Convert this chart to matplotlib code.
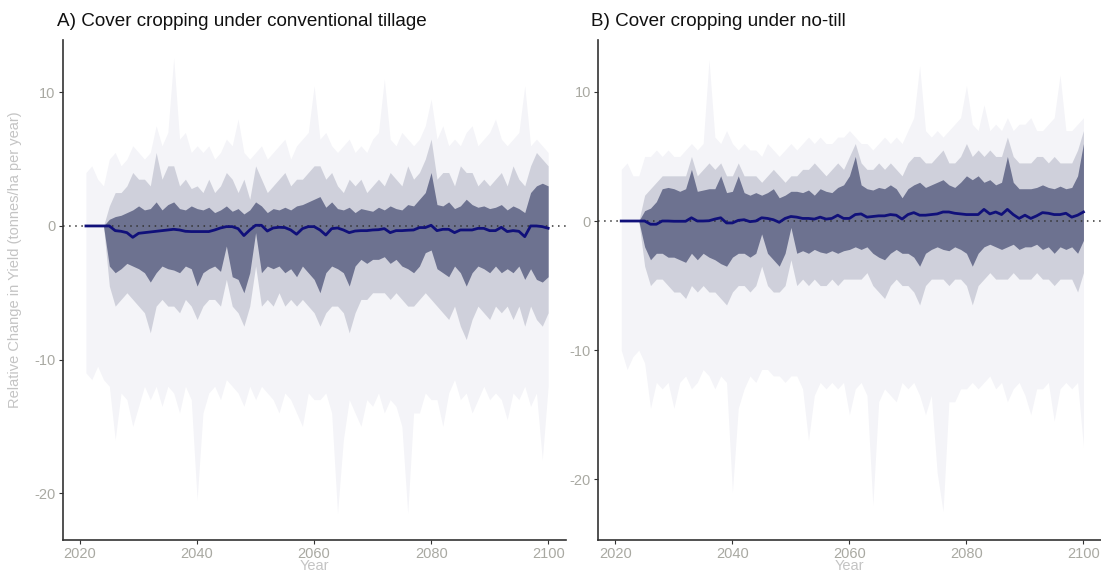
import matplotlib
matplotlib.use("Agg")
import matplotlib.pyplot as plt
import numpy as np

plt.rcParams['font.family'] = ['Liberation Sans', 'DejaVu Sans']
plt.rcParams['axes.unicode_minus'] = False

years = np.arange(2021, 2101)

# ---- Panel A: cover cropping under conventional tillage ----
mean_a = [
    0, 0, 0, 0, 0, -0.35, -0.4, -0.5, -0.85, -0.55,
    -0.5, -0.45, -0.4, -0.35, -0.3, -0.25, -0.3, -0.4, -0.42, -0.42,
    -0.42, -0.42, -0.3, -0.15, -0.05, -0.05, -0.2, -0.72, -0.3, 0.05,
    0.05, -0.38, -0.15, -0.1, -0.12, -0.3, -0.62, -0.2, -0.05, -0.05,
    -0.3, -0.68, -0.2, -0.15, -0.3, -0.5, -0.38, -0.35, -0.35, -0.3,
    -0.28, -0.2, -0.5, -0.35, -0.35, -0.32, -0.3, -0.12, -0.12, 0.05,
    -0.35, -0.25, -0.25, -0.5, -0.3, -0.3, -0.3, -0.18, -0.18, -0.35,
    -0.35, -0.1, -0.42, -0.35, -0.4, -0.8, 0.0, 0.0, -0.05, -0.17,
]
core_hi_a = [
    0, 0, 0, 0, 0.5, 0.7, 0.8, 1.0, 1.2, 1.5,
    1.2, 1.3, 1.8, 1.2, 1.6, 1.8, 1.3, 1.2, 1.5, 1.3,
    1.2, 1.4, 1.0, 1.2, 1.5, 1.1, 1.3, 0.9, 1.2, 1.8,
    1.5, 1.0, 1.3, 1.2, 1.4, 1.2, 1.5, 1.6, 1.8, 2.0,
    2.2, 1.4, 1.8, 1.3, 1.2, 1.4, 1.0, 1.3, 1.2, 1.1,
    1.4, 1.2, 1.5, 1.3, 1.2, 1.6, 1.5, 2.0, 2.5, 4.0,
    1.6, 1.5, 1.8, 1.3, 1.5, 2.0, 1.6, 1.4, 1.5, 1.3,
    1.4, 1.6, 1.2, 1.5, 1.3, 1.0, 2.5, 3.0, 3.2, 3.0,
]
core_lo_a = [
    0, 0, 0, 0, -3.0, -3.5, -3.2, -2.8, -3.0, -3.2,
    -3.5, -4.2, -3.5, -3.0, -3.2, -3.3, -3.5, -3.0, -3.2, -4.5,
    -3.5, -3.2, -3.0, -3.4, -1.5, -3.8, -4.0, -5.0, -3.5, -0.5,
    -3.5, -3.0, -3.2, -3.0, -3.5, -3.2, -3.8, -3.0, -3.5, -4.0,
    -5.0, -3.5, -3.0, -3.2, -3.5, -4.5, -3.0, -2.5, -2.8, -2.5,
    -2.5, -2.3, -2.8, -2.5, -3.0, -3.2, -3.5, -3.0, -2.0, -1.8,
    -3.2, -3.5, -3.8, -3.0, -3.5, -4.5, -3.5, -3.0, -3.2, -3.5,
    -3.0, -3.5, -3.2, -3.5, -3.0, -4.0, -3.2, -4.0, -4.2, -3.8,
]
mid_hi_a = [
    0, 0, 0, 0, 1.5, 2.5, 2.5, 3.0, 4.0, 3.5,
    3.5, 3.0, 5.5, 3.5, 4.5, 4.5, 3.0, 3.5, 2.8, 3.0,
    2.5, 3.5, 2.5, 3.0, 4.0, 3.5, 2.5, 3.5, 2.0, 4.5,
    3.5, 2.5, 3.0, 3.5, 4.0, 3.0, 3.5, 3.5, 4.0, 4.5,
    4.5, 3.5, 4.0, 3.0, 2.5, 3.5, 3.0, 3.5, 2.5, 3.0,
    3.5, 3.0, 4.0, 3.5, 3.0, 4.5, 3.5, 4.0, 5.0, 6.5,
    3.5, 4.0, 4.0, 3.0, 4.5, 4.0, 4.0, 3.0, 3.5, 3.0,
    3.5, 4.0, 3.0, 4.5, 3.5, 3.0, 4.5, 5.5, 5.0, 4.5,
]
mid_lo_a = [
    0, 0, 0, 0, -4.5, -6.0, -5.5, -5.0, -5.5, -6.0,
    -6.5, -8.0, -6.0, -5.5, -6.0, -6.0, -6.5, -5.5, -6.0, -7.0,
    -6.0, -5.5, -5.5, -6.0, -4.0, -6.0, -6.5, -7.5, -6.0, -3.0,
    -6.0, -5.5, -6.0, -5.0, -6.0, -5.5, -6.0, -5.5, -6.0, -6.5,
    -7.5, -6.5, -6.0, -6.0, -6.5, -8.0, -6.5, -5.5, -5.5, -5.0,
    -5.0, -5.0, -5.5, -5.0, -5.5, -6.0, -6.0, -5.5, -5.0, -5.5,
    -6.0, -6.5, -7.0, -6.0, -7.5, -8.5, -7.0, -6.0, -6.5, -7.0,
    -6.0, -6.5, -6.0, -7.0, -6.0, -7.5, -6.0, -7.0, -7.5, -6.5,
]
out_hi_a = [
    4.0, 4.5, 3.5, 3.0, 5.0, 5.5, 4.5, 5.0, 6.0, 5.5,
    5.0, 5.5, 7.5, 6.0, 7.0, 12.6, 6.5, 7.0, 5.5, 6.0,
    5.5, 6.0, 5.0, 5.5, 6.5, 6.0, 8.0, 5.5, 5.0, 5.5,
    6.0, 5.0, 5.5, 6.0, 6.5, 5.0, 6.0, 6.5, 7.0, 10.5,
    6.5, 7.0, 6.0, 5.5, 6.0, 6.5, 5.5, 6.0, 5.5, 6.5,
    7.0, 11.0, 6.5, 6.0, 7.0, 6.5, 6.0, 6.5, 7.5, 9.5,
    6.5, 7.5, 6.0, 6.5, 6.0, 7.0, 7.5, 6.0, 6.5, 7.0,
    8.0, 6.5, 6.0, 6.5, 7.0, 10.5, 6.0, 6.5, 6.0, 5.5,
]
out_lo_a = [
    -11.0, -11.5, -10.5, -11.5, -12.0, -16.0, -12.5, -13.0, -15.0, -13.5,
    -12.0, -13.0, -12.0, -13.5, -12.0, -12.5, -14.0, -12.0, -13.0, -20.5,
    -14.0, -12.5, -12.0, -13.0, -11.5, -12.0, -12.5, -13.5, -12.0, -13.0,
    -12.0, -12.5, -13.0, -14.0, -12.5, -13.0, -14.0, -15.0, -12.5, -13.0,
    -13.0, -12.5, -14.0, -21.5, -16.0, -13.0, -14.0, -15.0, -13.0, -13.5,
    -12.5, -14.0, -13.0, -13.5, -15.0, -21.5, -14.0, -14.0, -12.5, -13.0,
    -13.0, -15.0, -12.5, -11.5, -13.0, -12.5, -14.0, -13.0, -12.0, -13.0,
    -12.5, -13.0, -14.5, -12.5, -13.0, -12.0, -13.5, -12.5, -17.5, -12.0,
]

# ---- Panel B: cover cropping under no-till ----
mean_b = [
    0, 0, 0, 0, 0, -0.25, -0.25, 0.0, 0.0, -0.02,
    -0.02, -0.02, 0.25, 0.0, 0.0, 0.02, 0.15, 0.25, -0.15, -0.15,
    0.05, 0.1, -0.05, 0.0, 0.25, 0.2, 0.1, -0.1, 0.2, 0.35,
    0.3, 0.2, 0.2, 0.15, 0.3, 0.15, 0.2, 0.45, 0.2, 0.2,
    0.5, 0.55, 0.3, 0.35, 0.4, 0.4, 0.5, 0.45, 0.15, 0.5,
    0.65, 0.45, 0.45, 0.5, 0.55, 0.7, 0.7, 0.6, 0.55, 0.5,
    0.5, 0.5, 0.9, 0.55, 0.7, 0.5, 0.9, 0.5, 0.2, 0.45,
    0.2, 0.4, 0.65, 0.6, 0.5, 0.5, 0.6, 0.3, 0.45, 0.7,
]
core_hi_b = [
    0, 0, 0, 0, 0.8, 1.0, 1.5, 2.5, 2.6, 2.5,
    2.3, 2.5, 4.0, 2.3, 2.4, 2.5, 2.5, 3.5, 2.2, 2.3,
    3.5, 2.2, 2.0, 2.2, 2.0, 2.2, 2.5, 1.8, 2.0, 2.3,
    2.3, 2.2, 2.4, 2.0, 2.5, 2.3, 2.2, 2.6, 2.8, 3.5,
    5.0, 2.8, 2.5, 2.4, 2.6, 2.5, 2.8, 2.5, 1.8, 2.5,
    2.8, 3.0, 2.6, 2.8, 3.0, 3.2, 2.8, 2.6, 3.0, 3.5,
    3.2, 3.5, 3.0, 3.2, 2.8, 3.0, 5.0, 3.0, 2.5, 2.5,
    2.5, 2.6, 2.8, 2.6, 2.5, 2.7, 2.5, 2.6, 3.5, 6.0,
]
core_lo_b = [
    0, 0, 0, 0, -2.0, -3.0, -2.5, -2.5, -2.8, -2.8,
    -3.0, -3.2, -2.5, -3.0, -2.5, -2.8, -3.0, -3.3, -3.5, -2.8,
    -2.5, -2.5, -2.8, -2.5, -1.0, -2.5, -3.0, -3.5, -2.5, -0.5,
    -2.5, -2.3, -2.5, -2.2, -2.4, -2.5, -2.3, -2.5, -2.3, -2.2,
    -2.0, -2.2, -2.0, -2.5, -2.8, -3.0, -2.5, -2.2, -2.5, -2.5,
    -2.8, -3.5, -2.5, -2.2, -2.0, -2.2, -2.3, -2.0, -2.2, -2.5,
    -3.5, -2.5, -2.0, -1.8, -2.0, -2.2, -2.0, -1.8, -2.2, -2.0,
    -2.0, -1.8, -2.2, -2.0, -2.5, -2.0, -2.2, -2.0, -2.5, -1.5,
]
mid_hi_b = [
    0, 0, 0, 0, 2.0, 2.5, 3.0, 3.5, 3.5, 3.5,
    3.5, 3.5, 5.0, 3.5, 4.0, 4.5, 4.0, 4.5, 3.5, 3.5,
    4.5, 3.5, 3.5, 3.5, 3.0, 3.5, 4.0, 3.5, 3.0, 3.5,
    3.5, 4.0, 4.0, 4.5, 4.0, 3.5, 4.0, 4.5, 4.0, 5.0,
    6.0, 4.5, 4.0, 4.0, 4.5, 4.0, 4.5, 4.0, 3.5, 4.5,
    5.0, 5.0, 4.5, 4.5, 5.0, 5.5, 4.5, 4.5, 5.0, 6.0,
    5.0, 5.5, 5.0, 5.5, 5.0, 5.0, 6.5, 5.0, 4.5, 4.5,
    4.5, 5.0, 5.0, 4.5, 5.0, 4.5, 4.5, 4.5, 5.5, 7.0,
]
mid_lo_b = [
    0, 0, 0, 0, -3.5, -5.0, -4.5, -4.5, -5.0, -5.5,
    -5.5, -6.0, -5.0, -5.5, -5.0, -5.5, -5.5, -6.0, -6.5, -5.5,
    -5.0, -5.0, -5.5, -5.0, -3.5, -5.0, -5.5, -5.5, -5.0, -3.0,
    -5.0, -4.5, -5.0, -4.5, -5.0, -5.0, -4.5, -5.0, -4.5, -4.5,
    -4.5, -4.5, -4.0, -5.0, -5.5, -6.0, -5.0, -4.5, -5.0, -5.0,
    -5.5, -6.5, -5.0, -4.5, -4.5, -4.5, -5.0, -4.5, -4.5, -5.0,
    -6.5, -5.0, -4.5, -4.0, -4.5, -4.5, -4.5, -4.0, -4.5, -4.5,
    -4.5, -4.0, -4.5, -4.5, -5.0, -4.5, -4.5, -4.5, -5.5, -4.0,
]
out_hi_b = [
    4.0, 4.5, 3.5, 3.5, 5.0, 5.0, 5.5, 5.0, 5.5, 5.0,
    5.0, 5.5, 6.0, 5.5, 6.0, 12.5, 6.5, 6.0, 7.0, 6.0,
    5.5, 6.0, 5.5, 5.5, 5.0, 6.0, 5.5, 5.0, 5.5, 6.0,
    5.5, 6.0, 6.5, 6.0, 6.5, 6.0, 6.0, 6.5, 6.5, 7.0,
    6.5, 6.0, 6.0, 5.5, 6.0, 6.5, 6.0, 6.5, 6.0, 7.0,
    8.0, 12.0, 7.0, 6.5, 7.0, 6.5, 7.0, 7.5, 8.0, 10.5,
    7.5, 7.0, 9.0, 7.0, 7.5, 7.0, 8.0, 7.0, 7.5, 7.5,
    8.0, 7.0, 7.0, 7.5, 8.0, 11.3, 7.0, 7.0, 7.5, 8.0,
]
out_lo_b = [
    -10.0, -11.5, -10.5, -10.0, -11.0, -14.5, -12.5, -13.0, -12.5, -14.5,
    -12.5, -12.0, -13.0, -12.5, -11.5, -12.0, -13.0, -12.0, -12.5, -21.0,
    -14.5, -13.0, -12.0, -12.5, -11.5, -11.5, -12.0, -12.0, -12.5, -12.0,
    -12.0, -13.0, -17.0, -13.5, -12.5, -13.0, -12.5, -13.0, -12.5, -15.0,
    -13.0, -12.5, -13.5, -22.0, -14.0, -13.0, -13.5, -14.0, -12.5, -13.0,
    -12.5, -13.5, -15.0, -13.5, -19.5, -22.5, -14.0, -14.0, -13.0, -13.0,
    -12.5, -13.0, -12.5, -12.0, -13.0, -12.5, -14.0, -13.0, -12.5, -13.5,
    -15.0, -13.0, -13.0, -12.5, -15.5, -13.0, -12.5, -13.0, -12.5, -17.5,
]

titles = ["A) Cover cropping under conventional tillage", "B) Cover cropping under no-till"]
x_ticks = [2020, 2040, 2060, 2080, 2100]
y_ticks = [-20, -10, 0, 10]

fig = plt.figure(figsize=(11.01, 5.75), dpi=100)
ax_a = fig.add_axes([0.0568, 0.061, 0.457, 0.869])
ax_b = fig.add_axes([0.543, 0.061, 0.457, 0.869])

panels = [
    (ax_a, mean_a, core_hi_a, core_lo_a, mid_hi_a, mid_lo_a, out_hi_a, out_lo_a, (-23.5, 13.9)),
    (ax_b, mean_b, core_hi_b, core_lo_b, mid_hi_b, mid_lo_b, out_hi_b, out_lo_b, (-24.7, 14.0)),
]

tick_col = '#a9a9a2'
lab_col = '#c4c4c4'

for ax, mean, chi, clo, mhi, mlo, ohi, olo, ylim in panels:
    # faint envelope of all runs, medium-density band, dense core
    ax.fill_between(years, olo, ohi, color='#f4f4f8', lw=0, zorder=1)
    ax.fill_between(years, mlo, mhi, color='#c6c8d4', alpha=0.8, lw=0, zorder=2)
    ax.fill_between(years, clo, chi, color='#6d7290', lw=0, zorder=3)
    ax.axhline(0, color='#333333', ls=(0, (1, 3)), lw=1.1, zorder=4)
    ax.plot(years, mean, color='#10107a', lw=2.0, zorder=5)

    ax.set_xlim(2017, 2103)
    ax.set_ylim(*ylim)
    ax.set_xticks(x_ticks)
    ax.set_yticks(y_ticks)
    ax.tick_params(colors='#333333', labelcolor=tick_col, labelsize=10.5,
                   length=3, width=0.8, pad=2)
    for s in ['top', 'right']:
        ax.spines[s].set_visible(False)
    for s in ['left', 'bottom']:
        ax.spines[s].set_color('#333333')
        ax.spines[s].set_linewidth(1.2)
    ax.set_xlabel('Year', color=lab_col, fontsize=10.5, labelpad=-1)

ax_a.set_ylabel('Relative Change in Yield (tonnes/ha per year)', color=lab_col, fontsize=10.5)
ax_a.yaxis.set_label_coords(-0.08, 0.56)

fig.text(57 / 1101, 1 - 22 / 575, titles[0], fontsize=13.6, va='center', ha='left', color='#111111')
fig.text(591 / 1101, 1 - 22 / 575, titles[1], fontsize=13.6, va='center', ha='left', color='#111111')

fig.savefig('out.png', dpi=100)
